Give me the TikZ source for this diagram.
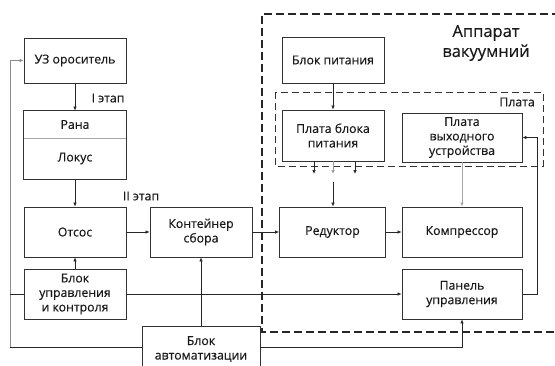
\documentclass[tikz,border=0pt]{standalone}
\usepackage{fontspec}
\setmainfont{Open Sans}
\newfontfamily\txtfont{Open Sans}[FakeBold=0.35]
\usetikzlibrary{arrows.meta}
\begin{document}
\begin{tikzpicture}[x=1pt,y=-1pt,
 box/.style={draw=black!80,line width=0.8pt,inner sep=0pt,align=center,text=black!90,font=\txtfont\fontsize{12.3}{14.5}\selectfont},
 arr/.style={-{Latex[length=4pt,width=3.5pt]},line width=0.7pt},
 ln/.style={line width=0.7pt},
 lbl/.style={text=black!90,font=\txtfont\fontsize{12.3}{14.5}\selectfont,inner sep=0pt}]
\useasboundingbox (0,0) rectangle (555,365);
\clip (0,0) rectangle (555,365);
% left column
\node[box,minimum width=102pt,minimum height=45pt] (uz) at (75,60.5) {УЗ ороситель};
\node[box,draw=none,minimum width=102pt,minimum height=27pt] (rana) at (75,124.5) {Рана};
\node[box,draw=none,minimum width=102pt,minimum height=41pt] (lokus) at (75,158.5) {Локус};
\draw[black!80,line width=0.8pt] (rana.north west) rectangle (lokus.south east);
\draw[black!35,line width=0.8pt] (rana.south west) -- (rana.south east);
\node[box,minimum width=102pt,minimum height=50pt] (otsos) at (75,232) {Отсос};
\node[box,minimum width=102pt,minimum height=50pt] (kont) at (201,232) {Контейнер\\сбора};
\node[box,minimum width=102pt,minimum height=50pt] (bu) at (75,294) {Блок\\управления\\и контроля};
\node[box,minimum width=118pt,minimum height=46pt] (ba) at (201,349) {Блок\\автоматизации};
% apparatus
\node[box,minimum width=102pt,minimum height=46pt] (bp) at (333,60) {Блок питания};
\node[box,minimum width=102pt,minimum height=51pt] (pbp) at (333,135.5) {Плата блока\\питания};
\node[box,minimum width=120pt,minimum height=49pt] (pvu) at (462,137.5) {Плата\\выходного\\устройства};
\node[box,minimum width=106pt,minimum height=50pt] (red) at (332.5,232) {Редуктор};
\node[box,minimum width=120pt,minimum height=50pt] (komp) at (462,232) {Компрессор};
\node[box,minimum width=120pt,minimum height=50pt] (pu) at (462,294) {Панель\\управления};
% dashed frames
\draw[dash pattern=on 8pt off 4pt,line width=1.1pt,black!85] (560,14) -- (262,14) -- (262,332) -- (560,332);
\draw[dash pattern=on 7pt off 4pt,line width=0.8pt,black!80] (275,92) rectangle (543,166);
% labels
\node[lbl] (et1) at (108,98) {I этап};
\node[lbl] (et2) at (141,196) {II этап};
\node[lbl,anchor=east] (plata) at (535,102) {Плата};
\node[lbl,font=\txtfont\fontsize{16.5}{20}\selectfont,align=center] (app) at (486,43) {Аппарат\\вакуумний};
% connectors
\coordinate (lbot) at (10,347);
\coordinate (ltop) at (10,60.5);
\coordinate (lmid) at (10,294);
\draw[arr,black!45] (lbot) -- (ltop) -- (uz.west);
\draw[ln,black!85] (ba.west |- lbot) -- (lbot);
\draw[ln,black!85] (bu.west) -- (lmid);
\draw[arr,black!85] (uz.south) -- (rana.north);
\draw[arr,black!85] (lokus.south) -- (otsos.north);
\draw[arr,black!85] (bu.north) -- (otsos.south);
\draw[arr,black!85] (otsos.east) -- (kont.west);
\draw[arr,black!85] (ba.north) -- (kont.south);
\draw[arr,black!85] (kont.east) -- (red.west);
\draw[arr,black!85] (red.east) -- (komp.west);
\draw[arr,black!85] (bu.east) -- (pu.west);
\coordinate (rb) at (462,347);
\draw[arr,black!85] (ba.east |- rb) -- (rb) -- (pu.south);
\coordinate (rr) at (537,294);
\coordinate (rt) at (537,137.5);
\draw[arr,black!85] (pu.east) -- (rr) -- (rt) -- (pvu.east);
\draw[arr,black!35] (pvu.south) -- (komp.north);
\draw[arr,black!85] (bp.south) -- (pbp.north);
\coordinate (s1) at (314,174);
\coordinate (s2) at (333,174);
\coordinate (s3) at (355,174);
\coordinate (s4) at (333,182);
\draw[arr,black!85] (pbp.south -| s1) -- (s1);
\draw[arr,black!40] (pbp.south -| s2) -- (s2);
\draw[arr,black!85] (pbp.south -| s3) -- (s3);
\draw[arr,black!85] (s4) -- (red.north -| s4);
\end{tikzpicture}
\end{document}
